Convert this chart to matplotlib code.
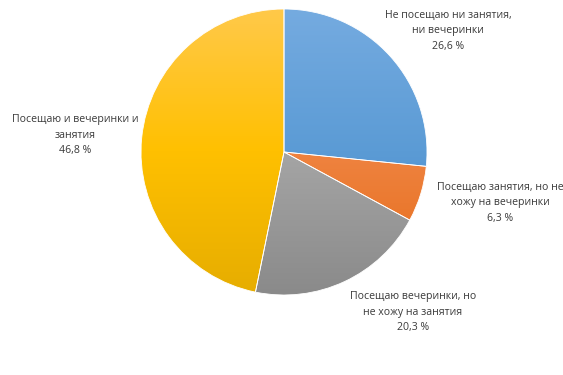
import numpy as np
import matplotlib.pyplot as plt
from matplotlib.colors import LinearSegmentedColormap

categories = [
    "Не посещаю ни занятия,\nни вечеринки",
    "Посещаю занятия, но не\nхожу на вечеринки",
    "Посещаю вечеринки, но\nне хожу на занятия",
    "Посещаю и вечеринки и\nзанятия",
]
values = [26.6, 6.3, 20.3, 46.8]

# top / middle / bottom colours of the gradient fill for each slice
grad_colors = [
    ("#75abe0", "#5b9bd5", "#3f7fc5"),
    ("#f7a774", "#ef8340", "#e46a16"),
    ("#b9b9b9", "#a5a5a5", "#8a8a8a"),
    ("#ffc94a", "#ffc000", "#e6ad00"),
]
# label centres in figure pixels (from top-left)
label_pos = [(448, 31), (500, 203), (413, 312), (75, 135)]

W, H = 563, 375
fig = plt.figure(figsize=(W / 100, H / 100), dpi=100)
cx, cy, r = 284, 152, 143
ax = fig.add_axes([(cx - r) / W, (H - cy - r) / H, 2 * r / W, 2 * r / H])

wedges, _ = ax.pie(values, startangle=90, counterclock=False,
                   wedgeprops=dict(edgecolor="white", linewidth=0.6))

grad = np.linspace(1, 0, 256).reshape(-1, 1)
for w, cols in zip(wedges, grad_colors):
    w.set_facecolor("none")
    cmap = LinearSegmentedColormap.from_list("g", cols[::-1])
    im = ax.imshow(grad, cmap=cmap, extent=[-1, 1, -1, 1], aspect="auto",
                   zorder=0, interpolation="bilinear")
    im.set_clip_path(w)
ax.set_xlim(-1, 1)
ax.set_ylim(-1, 1)
ax.set_axis_off()

for cat, val, (px, py) in zip(categories, values, label_pos):
    txt = cat + "\n" + f"{val:.1f}".replace(".", ",") + " %"
    fig.text(px / W, 1 - py / H, txt, ha="center", va="center",
             fontsize=7.6, family="Open Sans", color="#3a3a3a",
             linespacing=1.55)

fig.savefig("out.png", dpi=100, facecolor="white")
